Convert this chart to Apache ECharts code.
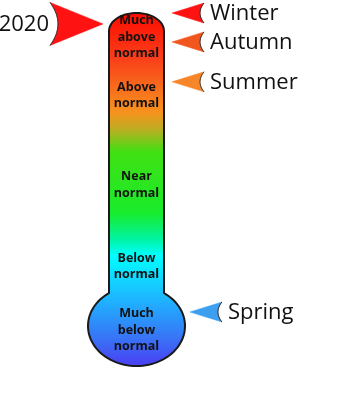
<!DOCTYPE html>
<html><head><meta charset="utf-8">
<script src="https://cdn.jsdelivr.net/npm/echarts@6/dist/echarts.min.js"></script>
<style>html,body{margin:0;padding:0;background:#fff}#c{width:360px;height:403px}</style>
</head><body><div id="c"></div>
<script>
// ---- data ----
const categories = ['Much\nabove\nnormal', 'Above\nnormal', 'Near\nnormal', 'Below\nnormal', 'Much\nbelow\nnormal'];
const categoryLevels = [93.2, 76.6, 51.3, 28.3, 10.2];      // position on thermometer scale (0 = bulb bottom, 100 = top)
const seasons = ['Winter', 'Autumn', 'Summer', 'Spring'];
const seasonLevels = [100, 91.8, 80.5, 15.3];
const seasonColors = ['#ff1212', '#f2561f', '#f7862a', '#3d9ff0'];
const yearLabel = '2020';
const yearLevel = 96.9;

// ---- layout ----
const CX = 136.5;      // thermometer centre (x axis value)
const HW = 27.5;       // tube half width
const CAP = 18;        // tube top cap height
const RX = 48.5, RY = 40; // bulb radii

const chart = echarts.init(document.getElementById('c'), null, {renderer: 'canvas'});

function geom(api) {
  const topY = api.coord([CX, 100])[1];
  const botY = api.coord([CX, 0])[1];
  const cx = api.coord([CX, 0])[0];
  const cy = botY - RY;
  const shoulder = cy - RY * Math.sqrt(1 - (HW / RX) * (HW / RX));
  return {topY, botY, cx, cy, shoulder};
}
function halfWidthAt(g, y) {
  if (y > g.shoulder) {
    const dy = (y - g.cy) / RY;
    return RX * Math.sqrt(Math.max(0, 1 - dy * dy));
  }
  return HW;
}

function thermoItem(params, api) {
  const g = geom(api);
  const pts = [];
  const capC = g.topY + CAP;
  for (let i = 0; i <= 30; i++) {
    const t = Math.PI + Math.PI * i / 30;
    pts.push([g.cx + HW * Math.cos(t), capC + CAP * Math.sin(t)]);
  }
  const a0 = -Math.acos(HW / RX);
  const a1 = Math.PI + Math.acos(HW / RX);
  for (let i = 0; i <= 80; i++) {
    const a = a0 + (a1 - a0) * i / 80;
    pts.push([g.cx + RX * Math.cos(a), g.cy + RY * Math.sin(a)]);
  }
  const H = g.botY - g.topY;
  const off = y => (y - g.topY) / H;
  const stops = [
    [g.topY, '#ff0a00'], [g.topY + 47, '#f9401a'], [g.topY + 100, '#f7931e'],
    [g.topY + 116, '#c0ac22'], [g.topY + 139, '#40e012'], [g.topY + 200, '#18ec2c'],
    [g.topY + 227, '#00f4a8'], [g.topY + 242, '#00ffff'], [g.topY + 287, '#1fb2ff'],
    [g.topY + 327, '#3a6ff6'], [g.botY, '#4b3cf2']
  ].map(s => ({offset: Math.min(1, off(s[0])), color: s[1]}));
  return {
    type: 'polygon',
    shape: {points: pts},
    style: {fill: new echarts.graphic.LinearGradient(0, 0, 0, 1, stops), stroke: '#1a1a1a', lineWidth: 2}
  };
}

function labelItem(params, api) {
  const p = api.coord([CX, api.value(1)]);
  return {
    type: 'text',
    x: p[0], y: p[1],
    style: {
      text: categories[params.dataIndex], fill: '#111', align: 'center', verticalAlign: 'middle',
      font: 'bold 12.5px "Open Sans", sans-serif', lineHeight: 16.3
    }
  };
}

function arrowChildren(tx, ty, dir, L, H, d, color) {
  const bx = tx - dir * L;
  const back = [];
  for (let i = 0; i <= 20; i++) {
    const t = i / 20;
    const x = (1 - t) * (1 - t) * bx + 2 * (1 - t) * t * (bx + dir * 2 * d) + t * t * bx;
    const y = (1 - t) * (1 - t) * (ty - H) + 2 * (1 - t) * t * ty + t * t * (ty + H);
    back.push([x, y]);
  }
  const pts = [[tx, ty]].concat(back);
  return [
    {type: 'polygon', shape: {points: pts}, style: {fill: color, stroke: color, lineWidth: 0.5}},
    {type: 'polyline', shape: {points: back}, style: {fill: null, stroke: '#333', lineWidth: 1}}
  ];
}

function seasonItem(params, api) {
  const g = geom(api);
  const y = api.coord([CX, api.value(1)])[1];
  const i = params.dataIndex;
  const tx = g.cx + halfWidthAt(g, y) + 8;
  const L = 32, H = 10;
  const ch = arrowChildren(tx, y, -1, L, H, 4, seasonColors[i]);
  ch.push({
    type: 'text', x: tx + L + 6, y: y + 1,
    style: {text: seasons[i], fill: '#111', align: 'left', verticalAlign: 'middle', font: '22px "Open Sans", sans-serif'}
  });
  return {type: 'group', children: ch};
}

function yearItem(params, api) {
  const g = geom(api);
  const y = api.coord([CX, api.value(1)])[1];
  const tx = g.cx - HW - 6;
  const L = 53;
  const ch = arrowChildren(tx, y, 1, L, 21.5, 8, '#ff1212');
  ch.push({
    type: 'text', x: tx - L - 1, y: y + 1,
    style: {text: yearLabel, fill: '#111', align: 'right', verticalAlign: 'middle', font: '22px "Open Sans", sans-serif'}
  });
  return {type: 'group', children: ch};
}

chart.setOption({
  animation: false,
  backgroundColor: '#fff',
  grid: {left: 0, right: 0, top: 13, bottom: 37},
  xAxis: {type: 'value', min: 0, max: 360, show: false},
  yAxis: {type: 'value', min: 0, max: 100, show: false},
  series: [
    {type: 'custom', renderItem: thermoItem, data: [[CX, 0]], clip: false, silent: true},
    {type: 'custom', renderItem: labelItem, data: categoryLevels.map(v => [CX, v]), clip: false, silent: true},
    {type: 'custom', renderItem: seasonItem, data: seasonLevels.map(v => [CX, v]), clip: false, silent: true},
    {type: 'custom', renderItem: yearItem, data: [[CX, yearLevel]], clip: false, silent: true}
  ]
});
</script></body></html>
